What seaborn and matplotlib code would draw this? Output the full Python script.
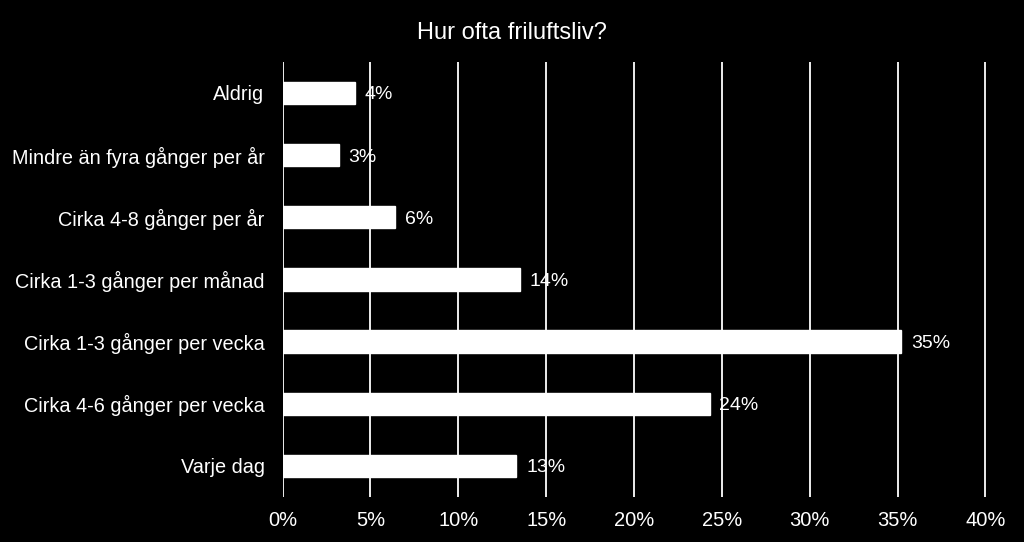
import matplotlib.pyplot as plt
import seaborn as sns
import pandas as pd
from matplotlib.ticker import FuncFormatter

categories = [
    "Aldrig",
    "Mindre än fyra gånger per år",
    "Cirka 4-8 gånger per år",
    "Cirka 1-3 gånger per månad",
    "Cirka 1-3 gånger per vecka",
    "Cirka 4-6 gånger per vecka",
    "Varje dag",
]
values = [4.1, 3.2, 6.4, 13.5, 35.2, 24.3, 13.3]
labels = ["4%", "3%", "6%", "14%", "35%", "24%", "13%"]
xticks = [0, 5, 10, 15, 20, 25, 30, 35, 40]

df = pd.DataFrame({"kategori": categories, "andel": values})

sns.set_style("dark")
plt.rcParams["font.family"] = ["Liberation Sans", "DejaVu Sans"]

fig = plt.figure(figsize=(10.24, 5.42), dpi=100, facecolor="black")
ax = fig.add_axes([0.276, 0.083, 0.688, 0.803])
ax.set_facecolor("black")

# vertical gridlines behind the bars
for t in xticks:
    ax.axvline(t, color="white", linewidth=1.3, zorder=0)

sns.barplot(
    data=df,
    x="andel",
    y="kategori",
    color="white",
    width=0.36,
    saturation=1,
    ax=ax,
    zorder=2
)

for i, (v, lab) in enumerate(zip(values, labels)):
    ax.annotate(
        lab,
        (v, i),
        xytext=(7, 0),
        textcoords="offset points",
        va="center_baseline",
        ha="left",
        color="white",
        fontsize=14,
        zorder=3
    )

ax.set_xlim(0, 40.1)
ax.set_ylim(6.5, -0.5)
ax.set_xticks(xticks)
ax.xaxis.set_major_formatter(FuncFormatter(lambda x, p: f"{x:.0f}%"))
ax.tick_params(axis="x", colors="white", labelsize=14.5, length=0, pad=10)
ax.tick_params(axis="y", colors="white", labelsize=14.3, length=0, pad=13)
ax.grid(False)
for s in ax.spines.values():
    s.set_visible(False)

ax.set_xlabel("")
ax.set_ylabel("")
fig.suptitle("Hur ofta friluftsliv?", color="white", fontsize=17, y=0.96)

fig.savefig("out.png", dpi=100, facecolor="black")
